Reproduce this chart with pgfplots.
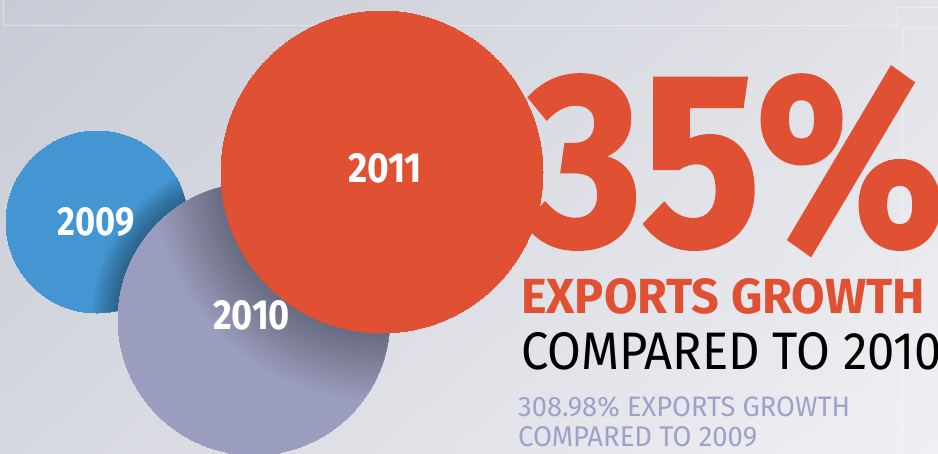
\documentclass[border=0pt]{standalone}
\usepackage{pgfplots}
\pgfplotsset{compat=1.18}
\usetikzlibrary{shadings}
\usepackage{graphicx}
\usepackage{fontspec}
\setmainfont{Fira Sans}
\newfontfamily\heavyfont{Fira Sans}[BoldFeatures={FakeBold=1.5}]
\definecolor{bgTL}{RGB}{199,203,213}
\definecolor{bgTR}{RGB}{226,227,232}
\definecolor{bgBL}{RGB}{214,216,223}
\definecolor{bgBR}{RGB}{240,240,244}
\definecolor{cblue}{RGB}{68,150,210}
\definecolor{clav}{RGB}{155,157,190}
\definecolor{cred}{RGB}{224,80,50}
\definecolor{ctxt}{RGB}{160,161,200}
\begin{document}
\begin{tikzpicture}
\useasboundingbox (0,0) rectangle (938pt,453pt);
\clip (0,0) rectangle (938pt,453pt);
\shade[upper left=bgTL, upper right=bgTR, lower left=bgBL, lower right=bgBR] (0,0) rectangle (938pt,453pt);
\begin{axis}[at={(0,0)}, anchor=south west, scale only axis,
  width=938pt, height=453pt, xmin=0, xmax=938, ymin=0, ymax=453,
  y dir=reverse, hide axis, clip=false, clip marker paths=true]
% faint frame lines
\draw[white, opacity=0.4, line width=0.8pt] (axis cs:3,0) -- (axis cs:3,25) -- (axis cs:897,25);
\draw[white, opacity=0.4, line width=0.8pt] (axis cs:897,25) -- (axis cs:897,7) -- (axis cs:938,7);
\draw[white, opacity=0.4, line width=0.8pt] (axis cs:902,453) -- (axis cs:902,28) -- (axis cs:938,28);
% 2009
\addplot[cblue, only marks, mark=*, mark size=91pt, mark options={fill=cblue, draw=cblue, line width=0pt}] coordinates {(97,222)};
\begin{scope}
\clip (axis cs:97,222) circle[radius=91pt];
\pgfplotsinvokeforeach{1,...,10}{\fill[black, opacity=0.035] (axis cs:254,319) circle[radius={136pt+#1*2.6pt}];}
\end{scope}
% 2010
\addplot[clav, only marks, mark=*, mark size=136pt, mark options={fill=clav, draw=clav, line width=0pt}] coordinates {(254,319)};
\begin{scope}
\clip (axis cs:254,319) circle[radius=136pt];
\pgfplotsinvokeforeach{1,...,16}{\fill[black, opacity=0.018] (axis cs:382,172) circle[radius={161pt+#1*4.2pt}];}
\end{scope}
% 35% text (behind the 2011 circle)
\node[anchor=south west, inner sep=0pt, text=cred] at (axis cs:527,255) {\resizebox{418pt}{177pt}{\heavyfont\bfseries 35\%}};
% 2011
\addplot[cred, only marks, mark=*, mark size=161pt, mark options={fill=cred, draw=cred, line width=0pt}] coordinates {(382,172)};
% circle labels
\node[inner sep=0pt, text=white] at (axis cs:96.5,222) {\resizebox{77pt}{28pt}{\bfseries 2009}};
\node[inner sep=0pt, text=white] at (axis cs:251.5,315.5) {\resizebox{77pt}{29pt}{\bfseries 2010}};
\node[inner sep=0pt, text=white] at (axis cs:385,168.5) {\resizebox{74pt}{29pt}{\bfseries 2011}};
% right-hand texts
\node[anchor=south west, inner sep=0pt, text=cred] at (axis cs:521,315) {\resizebox{404pt}{35pt}{\bfseries EXPORTS GROWTH}};
\node[anchor=south west, inner sep=0pt, text=black] at (axis cs:521,370) {\resizebox{421pt}{37pt}{COMPARED TO 2010}};
\node[anchor=south west, inner sep=0pt, text=ctxt] at (axis cs:518,418) {\resizebox{332pt}{20pt}{308.98\% EXPORTS GROWTH}};
\node[anchor=south west, inner sep=0pt, text=ctxt] at (axis cs:518,447) {\resizebox{239pt}{20pt}{COMPARED TO 2009}};
\end{axis}
\end{tikzpicture}
\end{document}
